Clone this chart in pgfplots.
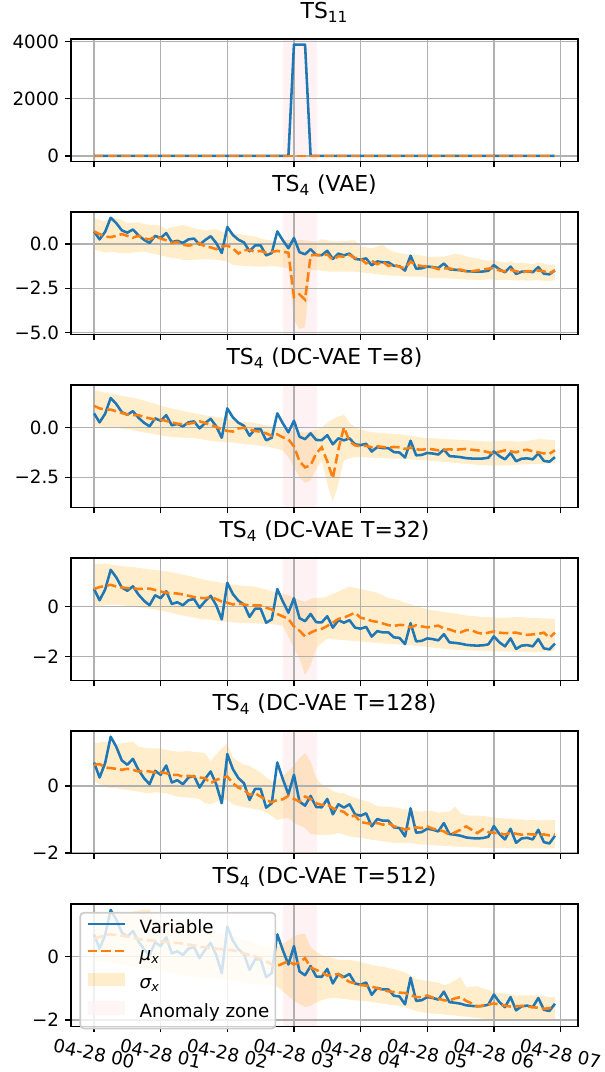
\documentclass[border=0pt]{standalone}
\usepackage{fontspec}
\setmainfont{DejaVu Sans}
\usepackage{graphicx}
\usepackage{pgfplots}
\pgfplotsset{compat=1.18}
\usepackage{pgfplotstable}

\definecolor{mblue}{HTML}{1F77B4}
\definecolor{morange}{HTML}{FF7F0E}
\definecolor{sigfill}{HTML}{FFA500}
\definecolor{zonefill}{RGB}{255,242,245}
\definecolor{gridc}{HTML}{B0B0B0}
\definecolor{legedge}{HTML}{CCCCCC}

% ---------------- data ----------------
\pgfplotstableread{
i v m
0 0 0
1 0 0
2 0 0
3 0 0
4 0 0
5 0 0
6 0 0
7 0 0
8 0 0
9 0 0
10 0 0
11 0 0
12 0 0
13 0 0
14 0 0
15 0 0
16 0 0
17 0 0
18 0 0
19 0 0
20 0 0
21 0 0
22 0 0
23 0 0
24 0 0
25 0 0
26 0 0
27 0 0
28 0 0
29 0 0
30 0 0
31 0 0
32 0 0
33 0 0
34 0 0
35 0 0
36 3890 0
37 3890 0
38 3890 0
39 0 0
40 0 0
41 0 0
42 0 0
43 0 0
44 0 0
45 0 0
46 0 0
47 0 0
48 0 0
49 0 0
50 0 0
51 0 0
52 0 0
53 0 0
54 0 0
55 0 0
56 0 0
57 0 0
58 0 0
59 0 0
60 0 0
61 0 0
62 0 0
63 0 0
64 0 0
65 0 0
66 0 0
67 0 0
68 0 0
69 0 0
70 0 0
71 0 0
72 0 0
73 0 0
74 0 0
75 0 0
76 0 0
77 0 0
78 0 0
79 0 0
80 0 0
81 0 0
82 0 0
83 0 0
}\tts

\pgfplotstableread{
i v
0 0.70
1 0.25
2 0.68
3 1.47
4 1.17
5 0.76
6 0.63
7 0.81
8 0.48
9 0.23
10 0.05
11 0.45
12 0.33
13 0.61
14 0.10
15 0.17
16 0.05
17 0.25
18 0.30
19 -0.05
20 0.21
21 0.43
22 0.05
23 -0.52
24 0.95
25 0.50
26 0.23
27 0.08
28 -0.42
29 -0.09
30 -0.09
31 -0.65
32 -0.52
33 0.70
34 0.20
35 -0.25
36 0.33
37 -0.47
38 -0.59
39 -0.30
40 -0.63
41 -0.64
42 -0.39
43 -0.85
44 -0.55
45 -0.65
46 -0.55
47 -0.85
48 -0.89
49 -0.82
50 -1.21
51 -0.99
52 -1.04
53 -1.04
54 -1.24
55 -1.26
56 -1.51
57 -0.67
58 -1.40
59 -1.38
60 -1.28
61 -1.31
62 -1.36
63 -1.11
64 -1.44
65 -1.46
66 -1.49
67 -1.54
68 -1.56
69 -1.57
70 -1.56
71 -1.52
72 -1.20
73 -1.44
74 -1.60
75 -1.28
76 -1.70
77 -1.57
78 -1.55
79 -1.60
80 -1.31
81 -1.68
82 -1.72
83 -1.49
}\tblue

% VAE
\pgfplotstableread{
i m lo hi
0 0.70 -0.30 1.45
1 0.55 -0.40 1.35
2 0.40 -0.49 1.26
3 0.38 -0.45 1.48
4 0.45 -0.48 1.42
5 0.55 -0.53 1.35
6 0.45 -0.52 1.17
7 0.35 -0.49 1.20
8 0.45 -0.46 1.21
9 0.30 -0.43 1.12
10 0.25 -0.50 1.07
11 0.40 -0.58 1.07
12 0.30 -0.65 1.00
13 0.20 -0.72 0.83
14 0.05 -0.80 0.95
15 0.10 -0.83 1.00
16 -0.05 -0.90 1.07
17 -0.10 -0.90 0.98
18 -0.05 -0.90 0.89
19 0.05 -0.88 0.82
20 -0.15 -0.87 0.75
21 -0.20 -0.87 0.80
22 -0.30 -0.90 0.83
23 -0.15 -0.95 0.70
24 -0.10 -1.00 0.60
25 -0.25 -1.19 0.60
26 -0.55 -1.22 0.55
27 -0.35 -1.24 0.50
28 -0.35 -1.26 0.45
29 -0.45 -1.28 0.41
30 -0.40 -1.28 0.30
31 -0.50 -1.28 0.23
32 -0.45 -1.25 0.19
33 -0.40 -1.28 0.13
34 -0.45 -1.33 0.18
35 -0.50 -1.37 0.23
36 -3.00 -4.30 0.20
37 -2.85 -4.80 0.22
38 -3.15 -4.70 0.20
39 -0.65 -1.50 0.15
40 -0.62 -1.47 0.13
41 -0.65 -1.52 0.26
42 -0.60 -1.56 0.20
43 -0.90 -1.56 0.15
44 -0.70 -1.56 0.13
45 -0.72 -1.56 0.16
46 -0.62 -1.56 0.19
47 -0.80 -1.56 0.19
48 -0.85 -1.60 -0.15
49 -1.10 -1.64 -0.20
50 -0.95 -1.66 -0.25
51 -1.15 -1.72 -0.15
52 -1.00 -1.75 -0.06
53 -1.25 -1.78 -0.30
54 -1.15 -1.81 -0.45
55 -1.30 -1.82 -0.53
56 -1.38 -1.84 -0.57
57 -1.00 -1.85 -0.60
58 -1.20 -1.85 -0.62
59 -1.25 -1.85 -0.66
60 -1.28 -1.90 -0.72
61 -1.32 -1.94 -0.72
62 -1.43 -1.94 -0.72
63 -1.38 -1.94 -0.72
64 -1.38 -1.95 -0.65
65 -1.47 -1.97 -0.55
66 -1.45 -2.00 -0.60
67 -1.55 -2.01 -0.70
68 -1.55 -2.02 -0.78
69 -1.50 -2.03 -0.81
70 -1.45 -2.03 -0.90
71 -1.40 -2.00 -0.95
72 -1.35 -2.02 -0.90
73 -1.50 -2.05 -1.00
74 -1.55 -2.03 -1.05
75 -1.45 -2.05 -1.00
76 -1.55 -2.06 -1.10
77 -1.60 -2.05 -1.05
78 -1.55 -2.08 -1.10
79 -1.55 -2.06 -1.15
80 -1.50 -2.05 -1.05
81 -1.55 -2.08 -1.10
82 -1.65 -2.10 -1.20
83 -1.50 -2.05 -1.15
}\tvae

% DC-VAE T=8
\pgfplotstableread{
i m lo hi
0 1.08 0.07 1.84
1 0.95 0.05 1.80
2 0.89 0.03 1.72
3 0.89 0.00 1.68
4 0.80 -0.02 1.63
5 0.72 -0.06 1.58
6 0.64 -0.10 1.52
7 0.61 -0.14 1.47
8 0.61 -0.20 1.42
9 0.52 -0.26 1.35
10 0.45 -0.30 1.25
11 0.39 -0.35 1.18
12 0.39 -0.40 1.08
13 0.32 -0.44 1.00
14 0.25 -0.48 0.94
15 0.18 -0.50 0.89
16 0.15 -0.52 0.82
17 0.18 -0.53 0.76
18 0.23 -0.54 0.72
19 0.30 -0.58 0.66
20 0.22 -0.63 0.60
21 0.12 -0.67 0.56
22 0.02 -0.70 0.52
23 -0.10 -0.73 0.48
24 -0.18 -0.75 0.42
25 -0.21 -0.76 0.37
26 -0.05 -0.80 0.31
27 -0.02 -0.83 0.28
28 -0.10 -0.86 0.25
29 -0.18 -0.89 0.22
30 -0.22 -0.93 0.15
31 -0.30 -0.96 0.10
32 -0.43 -1.00 0.07
33 -0.35 -1.08 0.02
34 -0.50 -1.17 -0.08
35 -0.60 -1.50 -0.12
36 -0.95 -2.00 -0.18
37 -1.70 -2.50 -0.22
38 -2.00 -2.78 -0.26
39 -1.90 -2.65 -0.20
40 -1.30 -2.10 -0.12
41 -1.00 -1.66 0.00
42 -1.70 -2.81 0.23
43 -2.55 -3.73 0.40
44 -1.10 -2.81 0.55
45 0.00 -1.66 0.64
46 -0.70 -1.55 0.23
47 -0.90 -1.48 0.00
48 -0.95 -1.48 -0.10
49 -0.92 -1.50 -0.18
50 -1.00 -1.52 -0.24
51 -0.95 -1.53 -0.26
52 -0.98 -1.54 -0.29
53 -1.02 -1.55 -0.31
54 -0.98 -1.56 -0.33
55 -1.00 -1.57 -0.35
56 -1.08 -1.58 -0.38
57 -1.02 -1.60 -0.42
58 -1.10 -1.62 -0.47
59 -1.12 -1.64 -0.51
60 -1.08 -1.66 -0.54
61 -1.10 -1.68 -0.55
62 -1.15 -1.70 -0.57
63 -1.12 -1.73 -0.59
64 -1.10 -1.75 -0.60
65 -1.12 -1.78 -0.61
66 -1.10 -1.80 -0.63
67 -1.08 -1.83 -0.64
68 -1.12 -1.85 -0.66
69 -1.15 -1.88 -0.68
70 -1.18 -1.90 -0.70
71 -1.25 -1.91 -0.71
72 -1.30 -1.91 -0.70
73 -1.22 -1.91 -0.68
74 -1.15 -1.91 -0.67
75 -1.20 -1.90 -0.69
76 -1.25 -1.88 -0.71
77 -1.15 -1.86 -0.71
78 -1.12 -1.85 -0.68
79 -1.20 -1.84 -0.63
80 -1.25 -1.83 -0.59
81 -1.30 -1.82 -0.60
82 -1.32 -1.80 -0.62
83 -1.15 -1.79 -0.64
}\tta

% DC-VAE T=32
\pgfplotstableread{
i m lo hi
0 0.70 0.00 1.72
1 0.78 0.03 1.70
2 0.82 0.05 1.72
3 0.87 0.07 1.68
4 0.80 0.08 1.65
5 0.76 0.05 1.62
6 0.74 0.02 1.60
7 0.74 0.00 1.58
8 0.70 -0.03 1.55
9 0.71 -0.06 1.52
10 0.72 -0.09 1.48
11 0.66 -0.12 1.46
12 0.60 -0.16 1.44
13 0.55 -0.21 1.41
14 0.53 -0.26 1.37
15 0.52 -0.32 1.33
16 0.48 -0.36 1.28
17 0.43 -0.40 1.23
18 0.38 -0.44 1.18
19 0.35 -0.49 1.12
20 0.33 -0.51 1.07
21 0.38 -0.54 1.03
22 0.30 -0.57 0.99
23 0.20 -0.60 0.95
24 0.15 -0.62 0.91
25 0.08 -0.64 0.87
26 0.12 -0.65 0.85
27 0.08 -0.66 0.83
28 0.04 -0.67 0.81
29 0.04 -0.68 0.80
30 0.04 -0.69 0.74
31 -0.05 -0.70 0.68
32 -0.12 -0.71 0.61
33 -0.30 -0.74 0.55
34 -0.40 -0.78 0.50
35 -0.50 -1.20 0.45
36 -0.80 -1.70 0.35
37 -0.97 -2.09 0.25
38 -1.20 -2.75 0.20
39 -1.05 -2.36 0.30
40 -0.95 -1.70 0.34
41 -0.90 -1.45 0.35
42 -0.78 -1.30 0.40
43 -0.65 -1.31 0.50
44 -0.50 -1.33 0.60
45 -0.45 -1.35 0.70
46 -0.35 -1.37 0.80
47 -0.25 -1.38 0.75
48 -0.45 -1.40 0.70
49 -0.50 -1.42 0.65
50 -0.58 -1.44 0.60
51 -0.62 -1.46 0.55
52 -0.68 -1.48 0.45
53 -0.75 -1.50 0.34
54 -0.78 -1.51 0.30
55 -0.74 -1.52 0.25
56 -0.75 -1.54 0.15
57 -0.84 -1.56 0.10
58 -0.75 -1.58 0.00
59 -0.80 -1.60 -0.05
60 -0.84 -1.63 -0.12
61 -0.80 -1.65 -0.15
62 -0.77 -1.67 -0.18
63 -0.88 -1.70 -0.22
64 -0.92 -1.72 -0.25
65 -1.00 -1.73 -0.28
66 -1.04 -1.75 -0.32
67 -0.95 -1.76 -0.36
68 -0.95 -1.77 -0.38
69 -1.05 -1.78 -0.40
70 -1.10 -1.78 -0.42
71 -1.05 -1.79 -0.43
72 -1.00 -1.79 -0.44
73 -1.05 -1.80 -0.45
74 -1.07 -1.80 -0.45
75 -1.06 -1.81 -0.44
76 -1.05 -1.82 -0.42
77 -1.10 -1.82 -0.43
78 -1.14 -1.83 -0.45
79 -1.12 -1.83 -0.46
80 -1.10 -1.83 -0.47
81 -1.05 -1.81 -0.48
82 -1.25 -1.79 -0.49
83 -1.05 -1.76 -0.50
}\ttb

% DC-VAE T=128
\pgfplotstableread{
i m lo hi
0 0.63 0.13 1.27
1 0.65 0.05 1.30
2 0.55 -0.02 1.32
3 0.53 -0.07 1.28
4 0.51 -0.07 1.25
5 0.48 -0.10 1.27
6 0.51 -0.12 1.30
7 0.48 -0.15 1.32
8 0.43 -0.17 1.17
9 0.45 -0.20 1.14
10 0.43 -0.22 1.12
11 0.40 -0.19 1.12
12 0.40 -0.20 1.12
13 0.38 -0.22 1.08
14 0.33 -0.27 1.05
15 0.33 -0.32 1.02
16 0.28 -0.34 1.03
17 0.30 -0.35 1.04
18 0.28 -0.36 1.01
19 0.25 -0.40 1.00
20 0.23 -0.52 0.98
21 0.08 -0.55 0.73
22 0.18 -0.47 0.95
23 0.23 -0.44 1.12
24 0.28 -0.42 1.27
25 0.08 -0.55 0.85
26 -0.05 -0.60 0.73
27 -0.12 -0.63 0.63
28 -0.27 -0.67 0.60
29 -0.22 -0.70 0.50
30 -0.32 -0.72 0.40
31 -0.42 -0.80 0.25
32 -0.49 -0.90 0.15
33 -0.42 -1.02 0.18
34 -0.40 -0.98 0.30
35 -0.30 -0.96 0.43
36 -0.39 -1.11 0.63
37 -0.47 -1.18 0.83
38 -0.32 -1.26 0.98
39 -0.39 -1.44 0.73
40 -0.52 -1.46 0.23
41 -0.57 -1.46 0.05
42 -0.55 -1.46 -0.05
43 -0.67 -1.45 -0.15
44 -0.72 -1.41 -0.22
45 -0.78 -1.45 -0.22
46 -0.92 -1.51 -0.30
47 -0.89 -1.53 -0.35
48 -1.08 -1.56 -0.42
49 -1.11 -1.58 -0.45
50 -1.14 -1.61 -0.52
51 -1.11 -1.63 -0.60
52 -1.16 -1.66 -0.62
53 -1.11 -1.68 -0.62
54 -1.21 -1.70 -0.64
55 -1.24 -1.71 -0.67
56 -1.31 -1.71 -0.70
57 -1.26 -1.71 -0.72
58 -1.24 -1.73 -0.75
59 -1.26 -1.75 -0.77
60 -1.21 -1.76 -0.74
61 -1.28 -1.77 -0.75
62 -1.31 -1.78 -0.80
63 -1.36 -1.79 -0.78
64 -1.46 -1.80 -0.77
65 -1.39 -1.81 -0.62
66 -1.31 -1.82 -0.82
67 -1.21 -1.83 -0.88
68 -1.31 -1.84 -0.89
69 -1.41 -1.84 -0.89
70 -1.30 -1.85 -0.90
71 -1.38 -1.85 -0.92
72 -1.40 -1.86 -0.95
73 -1.42 -1.86 -0.96
74 -1.45 -1.86 -0.98
75 -1.40 -1.87 -0.98
76 -1.43 -1.87 -1.00
77 -1.46 -1.87 -1.00
78 -1.44 -1.87 -1.02
79 -1.45 -1.87 -1.02
80 -1.47 -1.87 -1.03
81 -1.45 -1.87 -1.02
82 -1.48 -1.87 -1.03
83 -1.45 -1.87 -1.02
}\ttc

% DC-VAE T=512
\pgfplotstableread{
i m lo hi
0 0.56 -0.11 1.45
1 0.62 -0.14 1.35
2 0.68 -0.17 1.25
3 0.70 -0.19 1.28
4 0.68 -0.21 1.32
5 0.66 -0.24 1.35
6 0.63 -0.26 1.38
7 0.60 -0.30 1.42
8 0.55 -0.33 1.45
9 0.53 -0.36 1.48
10 0.51 -0.39 1.49
11 0.50 -0.42 1.19
12 0.48 -0.45 1.14
13 0.46 -0.49 1.10
14 0.45 -0.53 1.08
15 0.43 -0.56 1.04
16 0.41 -0.59 1.00
17 0.38 -0.62 0.97
18 0.35 -0.64 0.93
19 0.31 -0.65 0.89
20 0.29 -0.66 0.86
21 0.27 -0.68 0.82
22 0.25 -0.69 0.77
23 0.23 -0.72 0.72
24 0.21 -0.75 0.67
25 0.20 -0.78 0.62
26 0.15 -0.80 0.58
27 0.10 -0.82 0.53
28 0.05 -0.84 0.47
29 0.00 -0.86 0.42
30 -0.06 -0.88 0.37
31 -0.15 -0.89 0.33
32 -0.25 -0.90 0.30
33 -0.30 -0.95 0.32
34 -0.22 -1.10 0.40
35 -0.15 -1.25 0.51
36 -0.25 -1.40 0.65
37 -0.18 -1.50 0.70
38 -0.05 -1.60 0.72
39 -0.35 -1.55 0.30
40 -0.42 -1.45 0.15
41 -0.50 -1.38 0.05
42 -0.60 -1.33 0.00
43 -0.58 -1.31 -0.05
44 -0.55 -1.32 -0.11
45 -0.70 -1.34 -0.11
46 -0.80 -1.36 -0.11
47 -0.85 -1.38 -0.14
48 -0.90 -1.40 -0.17
49 -0.92 -1.41 -0.22
50 -0.95 -1.43 -0.27
51 -1.00 -1.46 -0.30
52 -1.05 -1.49 -0.32
53 -1.10 -1.52 -0.36
54 -1.12 -1.54 -0.40
55 -1.14 -1.56 -0.45
56 -1.15 -1.60 -0.50
57 -1.22 -1.66 -0.60
58 -1.28 -1.72 -0.70
59 -1.28 -1.76 -0.75
60 -1.23 -1.78 -0.77
61 -1.30 -1.80 -0.80
62 -1.33 -1.81 -0.82
63 -1.38 -1.83 -0.90
64 -1.39 -1.85 -0.86
65 -1.32 -1.86 -0.75
66 -1.28 -1.88 -0.65
67 -1.40 -1.90 -0.96
68 -1.48 -1.92 -0.95
69 -1.58 -1.94 -0.94
70 -1.55 -1.96 -1.00
71 -1.52 -1.97 -1.05
72 -1.48 -1.97 -1.12
73 -1.52 -1.97 -1.15
74 -1.55 -1.98 -1.17
75 -1.58 -1.99 -1.20
76 -1.57 -2.00 -1.23
77 -1.56 -2.00 -1.23
78 -1.58 -2.01 -1.23
79 -1.60 -2.02 -1.23
80 -1.62 -2.02 -1.23
81 -1.65 -2.03 -1.25
82 -1.63 -2.02 -1.28
83 -1.60 -2.02 -1.28
}\ttd

\pgfplotsset{
  panel/.style={
    scale only axis, width=298.24pt, height=72.06pt,
    anchor=south west,
    xmin=-0.3458, xmax=7.2625,
    xtick={0,1,2,3,4,5,6,7}, xticklabels={},
    tick pos=left, tick align=outside,
    major tick length=3.5pt,
    tick style={black, line width=0.8pt},
    axis line style={line width=0.8pt},
    grid=major, major grid style={gridc, line width=0.8pt},
    ticklabel style={font=\fontsize{10.75}{12.9}\selectfont},
    /pgf/number format/assume math mode=true,
    scaled y ticks=false,
    title style={font=\fontsize{12.9}{15.5}\selectfont, anchor=base, at={(0.5,1)}, yshift=6.3pt},
    set layers,
  },
  blueline/.style={mblue, line width=1.5pt, line join=round, forget plot},
  meanline/.style={morange, line width=1.5pt, dash pattern=on 5.55pt off 2.4pt, forget plot},
  mylineleg/.style={legend image code/.code={\draw[##1, sharp corners] (0pt,2.7pt) -- (22pt,2.7pt);}},
  myarealeg/.style={legend image code/.code={\fill[##1, sharp corners] (0pt,-1.3pt) rectangle (22pt,6.7pt);}},
}

% anomaly zone: x from 02:50 to 03:21; y arguments are the axis limits
\newcommand{\zone}[2]{\addplot[fill=zonefill, draw=none, forget plot, on layer=axis background] coordinates {(2.8333,#1) (3.35,#1) (3.35,#2) (2.8333,#2)} -- cycle;}
\newcommand{\band}[1]{%
  \addplot[draw=none, stack plots=y, forget plot, on layer=axis background] table[x expr=\thisrow{i}/12, y=lo]{#1};
  \addplot[draw=none, fill=sigfill, fill opacity=0.2, stack plots=y, forget plot, on layer=axis background] table[x expr=\thisrow{i}/12, y expr=\thisrow{hi}-\thisrow{lo}]{#1} \closedcycle;}

\begin{document}
\begin{tikzpicture}

% Panel 1
\begin{axis}[panel, at={(41.76pt,535.59pt)},
  ymin=-194.5, ymax=4084.5, ytick={0,2000,4000}, yticklabels={0,2000,4000},
  title={TS\textsubscript{11}}]
\zone{-194.5}{4084.5}
\addplot[blueline] table[x expr=\thisrow{i}/12, y=v]{\tts};
\addplot[meanline] table[x expr=\thisrow{i}/12, y=m]{\tts};
\end{axis}

% Panel 2
\begin{axis}[panel, at={(41.76pt,433.82pt)},
  ymin=-5.11, ymax=1.795, ytick={-5,-2.5,0}, yticklabels={−5.0,−2.5,0.0},
  title={TS\textsubscript{4} (VAE)}]
\zone{-5.11}{1.795}
\band{\tvae}
\addplot[blueline] table[x expr=\thisrow{i}/12, y=v]{\tblue};
\addplot[meanline] table[x expr=\thisrow{i}/12, y=m]{\tvae};
\end{axis}

% Panel 3
\begin{axis}[panel, at={(41.76pt,332.06pt)},
  ymin=-4.01, ymax=2.12, ytick={-2.5,0}, yticklabels={−2.5,0.0},
  title={TS\textsubscript{4} (DC-VAE T=8)}]
\zone{-4.01}{2.12}
\band{\tta}
\addplot[blueline] table[x expr=\thisrow{i}/12, y=v]{\tblue};
\addplot[meanline] table[x expr=\thisrow{i}/12, y=m]{\tta};
\end{axis}

% Panel 4
\begin{axis}[panel, at={(41.76pt,230.29pt)},
  ymin=-2.97, ymax=1.945, ytick={-2,0}, yticklabels={−2,0},
  title={TS\textsubscript{4} (DC-VAE T=32)}]
\zone{-2.97}{1.945}
\band{\ttb}
\addplot[blueline] table[x expr=\thisrow{i}/12, y=v]{\tblue};
\addplot[meanline] table[x expr=\thisrow{i}/12, y=m]{\ttb};
\end{axis}

% Panel 5
\begin{axis}[panel, at={(41.76pt,128.53pt)},
  ymin=-2.02, ymax=1.64, ytick={-2,0}, yticklabels={−2,0},
  title={TS\textsubscript{4} (DC-VAE T=128)}]
\zone{-2.02}{1.64}
\band{\ttc}
\addplot[blueline] table[x expr=\thisrow{i}/12, y=v]{\tblue};
\addplot[meanline] table[x expr=\thisrow{i}/12, y=m]{\ttc};
\end{axis}

% Panel 6
\begin{axis}[panel, at={(41.76pt,26.76pt)},
  ymin=-2.21, ymax=1.66, ytick={-2,0}, yticklabels={−2,0},
  title={TS\textsubscript{4} (DC-VAE T=512)},
  xticklabels={\rotatebox{-12}{04-28 00},\rotatebox{-12}{04-28 01},\rotatebox{-12}{04-28 02},\rotatebox{-12}{04-28 03},\rotatebox{-12}{04-28 04},\rotatebox{-12}{04-28 05},\rotatebox{-12}{04-28 06},\rotatebox{-12}{04-28 07}},
  xticklabel style={anchor=north},
  legend cell align=left,
  legend style={at={(0,1)}, anchor=north west, xshift=5pt, yshift=-4.7pt,
    fill=white, fill opacity=0.8, text opacity=1, draw=legedge, line width=1pt,
    rounded corners=2pt, inner sep=3.6pt, row sep=4.3pt,
    font=\fontsize{10.75}{12.9}\selectfont,
    nodes={inner sep=0pt, text height=8.5pt, text depth=3pt},
    /tikz/every odd column/.append style={column sep=7.8pt}},
]
\zone{-2.21}{1.66}
\band{\ttd}
\addplot[blueline] table[x expr=\thisrow{i}/12, y=v]{\tblue};
\addplot[meanline] table[x expr=\thisrow{i}/12, y=m]{\ttd};
\addlegendimage{mblue, line width=1.5pt, mylineleg}
\addlegendentry{Variable}
\addlegendimage{morange, line width=1.5pt, dash pattern=on 5.55pt off 2.4pt, mylineleg}
\addlegendentry{{\itshape μ}\textsubscript{\itshape x}}
\addlegendimage{fill=sigfill, fill opacity=0.2, draw=none, myarealeg}
\addlegendentry{{\itshape σ}\textsubscript{\itshape x}}
\addlegendimage{fill=zonefill, draw=none, myarealeg}
\addlegendentry{Anomaly zone}
\end{axis}
\pgfresetboundingbox
\path[use as bounding box] (0,0) rectangle (355.88pt,630.59pt);
\end{tikzpicture}
\end{document}
